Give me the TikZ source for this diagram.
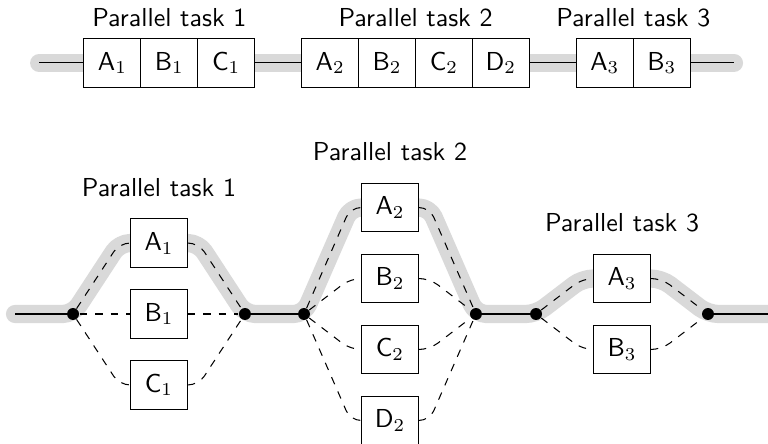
\documentclass[tikz,border=0pt]{standalone}
\usepackage{amsmath}
\usetikzlibrary{positioning,calc,backgrounds}

\begin{document}
\begin{tikzpicture}[
      font=\sffamily,
      node distance=0.3cm,
      task/.style={
        draw,
        fill=white,
        minimum width=0.77cm,
        minimum height=0.66cm,
        inner sep=0pt,
        outer sep=0pt
      },
      fork/.style={
        circle,
        fill,
        inner sep=0pt,
        minimum size=4.6pt
      },
      glow/.style={
        draw=gray!30,
        line width=7pt,
        line cap=round,
        line join=round,
        rounded corners=4pt
      },
      branch/.style={
        dashed,
        rounded corners=4pt
      }
    ]
    \useasboundingbox (0,0.02) rectangle (10.39,6.02);

    % sequential run
    \coordinate (s0) at (0.53,5.168);
    \coordinate (s1) at (9.93,5.168);
    \node[task, anchor=west] (sa1) at (1.136,5.168) {$\mathsf{A}_1$};
    \node[task, right=0pt of sa1] (sb1) {$\mathsf{B}_1$};
    \node[task, right=0pt of sb1] (sc1) {$\mathsf{C}_1$};
    \node[task, right=0.636cm of sc1] (sa2) {$\mathsf{A}_2$};
    \node[task, right=0pt of sa2] (sb2) {$\mathsf{B}_2$};
    \node[task, right=0pt of sb2] (sc2) {$\mathsf{C}_2$};
    \node[task, right=0pt of sc2] (sd2) {$\mathsf{D}_2$};
    \node[task, right=0.636cm of sd2] (sa3) {$\mathsf{A}_3$};
    \node[task, right=0pt of sa3] (sb3) {$\mathsf{B}_3$};

    \node[above=1pt] (sl1) at ($(sa1.north)!0.5!(sc1.north)$) {Parallel task 1};
    \node[above=1pt] (sl2) at ($(sa2.north)!0.5!(sd2.north)$) {Parallel task 2};
    \node[above=1pt] (sl3) at ($(sa3.north)!0.5!(sb3.north)$) {Parallel task 3};

    % parallel run
    \coordinate (p0) at (0.203,1.772);
    \coordinate (p1) at (10.6,1.772);
    \node[fork] (f1) at (0.988,1.772) {};
    \node[fork] (f2) at (3.314,1.772) {};
    \node[fork] (f3) at (4.113,1.772) {};
    \node[fork] (f4) at (6.439,1.772) {};
    \node[fork] (f5) at (7.252,1.772) {};
    \node[fork] (f6) at (9.578,1.772) {};

    \node[task] (b1) at (2.151,1.772) {$\mathsf{B}_1$};
    \node[task, above=of b1] (a1) {$\mathsf{A}_1$};
    \node[task, below=of b1] (c1) {$\mathsf{C}_1$};

    \node[task] (b2) at (5.276,2.252) {$\mathsf{B}_2$};
    \node[task, above=of b2] (a2) {$\mathsf{A}_2$};
    \node[task, below=of b2] (c2) {$\mathsf{C}_2$};
    \node[task, below=of c2] (d2) {$\mathsf{D}_2$};

    \node[task] (a3) at (8.415,2.252) {$\mathsf{A}_3$};
    \node[task, below=of a3] (b3) {$\mathsf{B}_3$};

    \node[above=5pt of a1] (l1) {Parallel task 1};
    \node[above=5pt of a2] (l2) {Parallel task 2};
    \node[above=5pt of a3] (l3) {Parallel task 3};

    \begin{scope}[on background layer]
      \draw[glow] (s0) -- (s1);
      \draw (s0) -- (s1);

      \draw[glow] (p0) -- (f1.center)
        -- ([xshift=-0.15cm]a1.west) -- ([xshift=0.15cm]a1.east)
        -- (f2.center) -- (f3.center)
        -- ([xshift=-0.15cm]a2.west) -- ([xshift=0.15cm]a2.east)
        -- (f4.center) -- (f5.center)
        -- ([xshift=-0.15cm]a3.west) -- ([xshift=0.15cm]a3.east)
        -- (f6.center) -- (p1);

      \foreach \t in {a1,b1,c1} {
        \draw[branch] (f1) -- ([xshift=-0.15cm]\t.west) -- (\t.west);
        \draw[branch] (\t.east) -- ([xshift=0.15cm]\t.east) -- (f2);
      }
      \foreach \t in {a2,b2,c2,d2} {
        \draw[branch] (f3) -- ([xshift=-0.15cm]\t.west) -- (\t.west);
        \draw[branch] (\t.east) -- ([xshift=0.15cm]\t.east) -- (f4);
      }
      \foreach \t in {a3,b3} {
        \draw[branch] (f5) -- ([xshift=-0.15cm]\t.west) -- (\t.west);
        \draw[branch] (\t.east) -- ([xshift=0.15cm]\t.east) -- (f6);
      }

      \path
        (p0) edge (f1)
        (f2) edge (f3)
        (f4) edge (f5)
        (f6) edge (p1) ;
    \end{scope}
\end{tikzpicture}
\end{document}
